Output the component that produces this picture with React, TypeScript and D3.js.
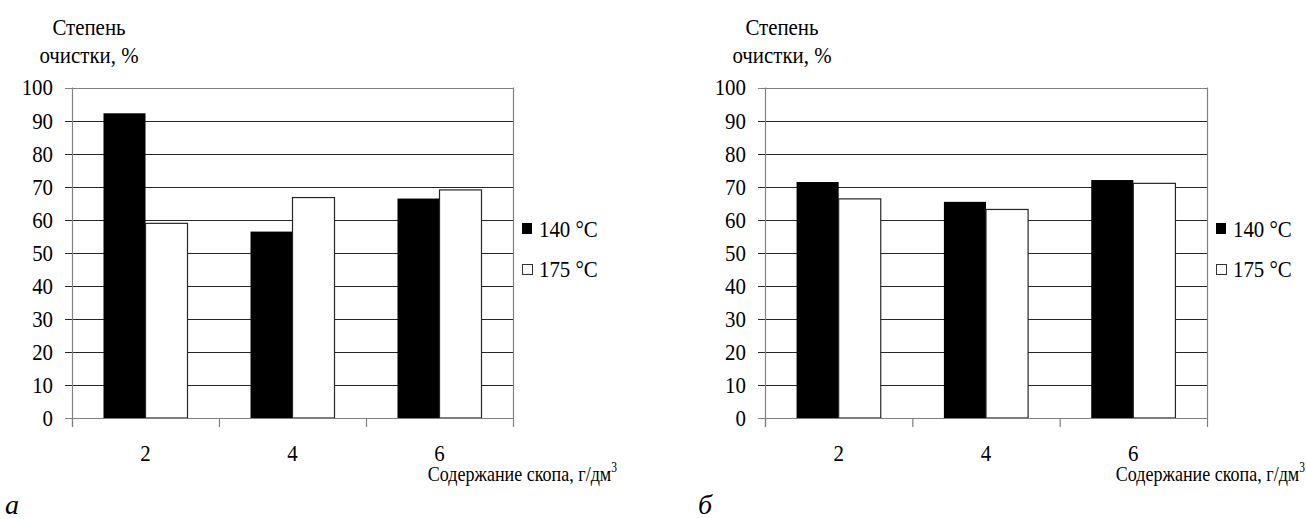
import React from "react";
import * as d3 from "d3";

const categories = ["2", "4", "6"];
const yTicks = [0, 10, 20, 30, 40, 50, 60, 70, 80, 90, 100];
const seriesNames = ["140 °C", "175 °C"];
const panelA140 = [92.2, 56.4, 66.4];
const panelA175 = [58.9, 66.7, 69.0];
const panelB140 = [71.4, 65.4, 72.0];
const panelB175 = [66.3, 63.1, 71.0];
const panelLetters = ["а", "б"];
const yTitle = ["Степень", "очистки, %"];
const xTitle = "Содержание скопа, г/дм";

const FONT = '"Liberation Serif"';
const FS = 24;
const SX = 0.87;

function T({ x, y, anchor, size, sx, italic, children }: any) {
  const s = sx ?? SX;
  return (
    <text
      x={x}
      y={y}
      textAnchor={anchor || "start"}
      fontFamily="Liberation Serif"
      fontSize={size || FS}
      transform={`translate(${x},0) scale(${s},1) translate(${-x},0)`}
      style={{ fontFamily: FONT, fontSize: size || FS, fontStyle: italic ? "italic" : "normal" }}
      fill="#000"
    >
      {children}
    </text>
  );
}

function Panel({ x0, width, s1, s2, letter, labelEnd }: { x0: number; width: number; s1: number[]; s2: number[]; letter: string; labelEnd: number }) {
  const y = d3.scaleLinear().domain([0, 100]).range([418, 87.5]);
  const x = d3.scaleBand().domain(categories).range([x0, x0 + width]).paddingInner(0).paddingOuter(0);
  const bw = x.bandwidth() / 3.5;
  const off = bw * 0.75;
  const right = x0 + width;
  const boundaries = [x0, ...categories.map((c) => (x(c) as number) + x.bandwidth())];
  return (
    <g>
      <T x={x0 + 17} y={35} anchor="middle">{yTitle[0]}</T>
      <T x={x0 + 17} y={63} anchor="middle">{yTitle[1]}</T>
      {yTicks.filter((t) => t > 0 && t < 100).map((t) => (
        <line key={t} x1={x0 - 7} x2={right} y1={Math.round(y(t)) + 0.5} y2={Math.round(y(t)) + 0.5} stroke="#262626" strokeWidth={1} />
      ))}
      <line x1={x0 - 7} x2={right} y1={Math.round(y(100)) + 0.5} y2={Math.round(y(100)) + 0.5} stroke="#808080" strokeWidth={1.2} />
      <line x1={right + 0.5} x2={right + 0.5} y1={y(100)} y2={y(0)} stroke="#808080" strokeWidth={1.2} />
      {categories.map((c, i) => {
        const bx = (x(c) as number) + off;
        return (
          <g key={c}>
            <rect x={bx} y={y(s1[i])} width={bw} height={y(0) - y(s1[i])} fill="#000" />
            <rect x={bx + bw} y={y(s2[i])} width={bw} height={y(0) - y(s2[i])} fill="#fff" stroke="#262626" strokeWidth={1.2} />
          </g>
        );
      })}
      <line x1={x0 + 0.5} x2={x0 + 0.5} y1={y(100)} y2={y(0) + 9} stroke="#808080" strokeWidth={1.2} />
      <line x1={x0 - 7} x2={right} y1={Math.round(y(0)) + 0.5} y2={Math.round(y(0)) + 0.5} stroke="#808080" strokeWidth={1.2} />
      {boundaries.map((b, i) => (
        <line key={i} x1={b + 0.5} x2={b + 0.5} y1={y(0)} y2={y(0) + 9} stroke="#808080" strokeWidth={1.2} />
      ))}
      {yTicks.map((t) => (
        <T key={t} x={x0 - 19} y={y(t) + 8} anchor="end">{String(t)}</T>
      ))}
      {categories.map((c) => {
        const cx = (x(c) as number) + x.bandwidth() / 2;
        return <T key={c} x={cx} y={461} anchor="middle">{c}</T>;
      })}
      <text
        x={labelEnd}
        y={481}
        textAnchor="end"
        fontFamily="Liberation Serif"
        fontSize={22}
        transform={`translate(${labelEnd},0) scale(0.82,1) translate(${-labelEnd},0)`}
        style={{ fontFamily: FONT, fontSize: 22 }}
      >
        {xTitle}
        <tspan style={{ fontSize: 14 }} dy={-9}>3</tspan>
      </text>
      <rect x={right + 9} y={223} width={10} height={11} fill="#000" />
      <T x={right + 26} y={237}>{seriesNames[0]}</T>
      <rect x={right + 9.5} y={264.5} width={10} height={10} fill="#fff" stroke="#333" strokeWidth={1} />
      <T x={right + 26} y={277}>{seriesNames[1]}</T>
      <T x={x0 - 67} y={514} size={28} sx={1} italic>{letter}</T>
    </g>
  );
}

export default function App() {
  return (
    <svg width={1306} height={519} style={{ position: "absolute", left: 0, top: 0, fontFamily: FONT }}>
      <style>{`text { font-family: "Liberation Serif", serif !important; }`}</style>
      <rect x={0} y={0} width={1306} height={519} fill="#fff" />
      <Panel x0={72} width={441} s1={panelA140} s2={panelA175} letter={panelLetters[0]} labelEnd={617} />
      <Panel x0={765} width={442} s1={panelB140} s2={panelB175} letter={panelLetters[1]} labelEnd={1305} />
    </svg>
  );
}
